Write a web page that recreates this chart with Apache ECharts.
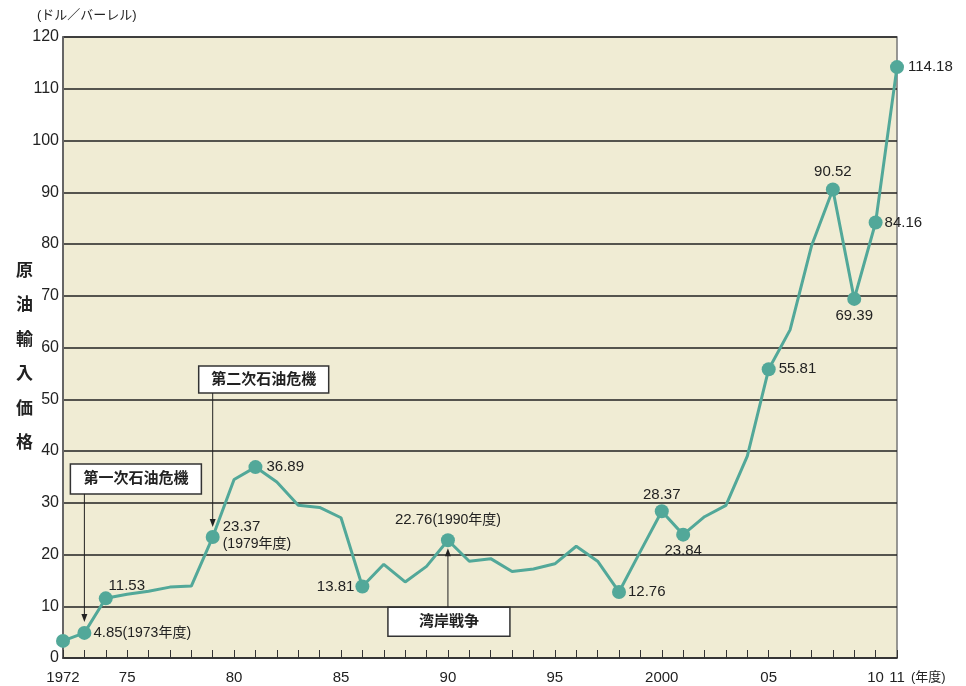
<!DOCTYPE html>
<html><head><meta charset="utf-8">
<script src="https://cdn.jsdelivr.net/npm/echarts@6/dist/echarts.min.js"></script>
<style>html,body{margin:0;padding:0;background:#fff}#c{width:966px;height:686px}</style>
</head><body><div id="c"></div>
<script>
// ---- data ----
const years = [1972,1973,1974,1975,1976,1977,1978,1979,1980,1981,1982,1983,1984,1985,1986,1987,1988,1989,1990,1991,1992,1993,1994,1995,1996,1997,1998,1999,2000,2001,2002,2003,2004,2005,2006,2007,2008,2009,2010,2011];
const prices = [3.3,4.85,11.53,12.3,12.9,13.7,13.9,23.37,34.5,36.89,34.0,29.5,29.1,27.1,13.81,18.1,14.7,17.7,22.76,18.7,19.2,16.7,17.2,18.2,21.6,18.7,12.76,20.6,28.37,23.84,27.3,29.5,39.0,55.81,63.4,79.6,90.52,69.39,84.16,114.18];
const markedYears = [1972,1973,1974,1979,1981,1986,1990,1998,2000,2001,2005,2008,2009,2010,2011];
const labelNotes = {1973:'(1973年度)',1979:'(1979年度)',1990:'(1990年度)'};
const xTickLabels = {1972:'1972',1975:'75',1980:'80',1985:'85',1990:'90',1995:'95',2000:'2000',2005:'05',2010:'10',2011:'11'};
const annotations = [{text:'第一次石油危機',year:1973},{text:'第二次石油危機',year:1979},{text:'湾岸戦争',year:1990}];

// ---- styles ----
const FONT = '"Liberation Sans", Arial, "Noto Sans CJK JP", sans-serif';
const LINE = '#52a899';
const labelStyle = {
  1973:{position:'right',distance:2},
  1974:{position:'top',distance:2,offset:[21,4]},
  1979:{position:'right',distance:3},
  1981:{position:'right',distance:4},
  1986:{position:'left',distance:1},
  1990:{position:'top',distance:3},
  1998:{position:'right',distance:2},
  2000:{position:'top',distance:2},
  2001:{position:'bottom',distance:2},
  2005:{position:'right',distance:3},
  2008:{position:'top',distance:3},
  2009:{position:'bottom',distance:2},
  2010:{position:'right',distance:2},
  2011:{position:'right',distance:4}
};
const annStyle = [
  {dx:-14,dy:-169,w:131,h:30,dir:'down',gap:11},
  {dx:-14,dy:-171,w:130,h:27,dir:'down',gap:10},
  {dx:-60,dy:67,w:122,h:29,dir:'up',gap:8}
];

function fmtLabel(year, v){
  const note = labelNotes[year];
  if(!note) return v.toFixed(2);
  if(year===1979) return '{a|'+v.toFixed(2)+'}\n{b|'+note+'}';
  return '{a|'+v.toFixed(2)+'}{b|'+note+'}';
}

const seriesData = years.map((y,i)=>{
  const item = {value:[y,prices[i]]};
  if(markedYears.indexOf(y)>=0){
    item.symbolSize = 14;
    const ls = labelStyle[y];
    if(ls) item.label = Object.assign({show:true,formatter:fmtLabel(y,prices[i])}, ls);
  } else {
    item.symbolSize = 0;
    item.symbol = 'none';
  }
  return item;
});

const chart = echarts.init(document.getElementById('c'));
chart.setOption({
  animation:false,
  backgroundColor:'#fff',
  grid:{left:63,top:37,right:69,bottom:28,show:true,backgroundColor:'#f0ecd4',borderColor:'#777',borderWidth:1.5},
  xAxis:{type:'value',min:1972,max:2011,interval:1,
    name:'(年度)',nameLocation:'end',nameGap:14,
    nameTextStyle:{fontFamily:FONT,fontSize:13,color:'#222',verticalAlign:'top',padding:[13,0,0,0]},
    axisLine:{show:true,lineStyle:{color:'#333',width:1.5}},
    axisTick:{show:true,inside:true,length:8,lineStyle:{color:'#333',width:1}},
    splitLine:{show:false},
    axisLabel:{fontFamily:FONT,fontSize:15,color:'#222',margin:12,showMinLabel:true,showMaxLabel:true,
      formatter:v=>xTickLabels[v]||''}
  },
  yAxis:{type:'value',min:0,max:120,interval:10,
    axisLine:{show:true,lineStyle:{color:'#666',width:2}},
    axisTick:{show:false},
    splitLine:{show:true,lineStyle:{color:'#222',width:1.5}},
    axisLabel:{fontFamily:FONT,fontSize:16,color:'#222',margin:4}
  },
  series:[{
    type:'line',data:seriesData,symbol:'circle',
    lineStyle:{color:LINE,width:3},
    itemStyle:{color:LINE},
    label:{fontFamily:FONT,fontSize:15,color:'#222',
      rich:{a:{fontFamily:FONT,fontSize:15,color:'#222'},b:{fontFamily:FONT,fontSize:14,color:'#222',lineHeight:20}}},
    z:3
  }]
});

// annotations anchored to the data points
const graphics = [
  {type:'text',left:37,top:9,style:{text:'(ドル／バーレル)',font:'13px '+FONT,fill:'#222'}},
  {type:'text',left:16,top:254,style:{text:'原\n油\n輸\n入\n価\n格',font:'bold 17px '+FONT,fill:'#222',lineHeight:34.5}}
];
annotations.forEach((a,k)=>{
  const idx = years.indexOf(a.year);
  const p = chart.convertToPixel({gridIndex:0},[a.year,prices[idx]]);
  const s = annStyle[k];
  const bx = p[0]+s.dx, by = p[1]+s.dy;
  graphics.push({type:'rect',z:10,shape:{x:bx,y:by,width:s.w,height:s.h},style:{fill:'#fff',stroke:'#333',lineWidth:1.5}});
  graphics.push({type:'text',z:11,x:bx+s.w/2,y:by+s.h/2,style:{text:a.text,font:'bold 15px '+FONT,fill:'#222',align:'center',verticalAlign:'middle'}});
  let y0,y1,head;
  if(s.dir==='down'){ y0=by+s.h; y1=p[1]-s.gap; head=[[p[0]-3,y1-8],[p[0]+3,y1-8],[p[0],y1]]; }
  else { y0=by; y1=p[1]+s.gap; head=[[p[0]-3,y1+8],[p[0]+3,y1+8],[p[0],y1]]; }
  graphics.push({type:'line',z:10,shape:{x1:p[0],y1:y0,x2:p[0],y2:(s.dir==='down'?y1-7:y1+7)},style:{stroke:'#222',lineWidth:1}});
  graphics.push({type:'polygon',z:10,shape:{points:head},style:{fill:'#222'}});
});
chart.setOption({graphic:graphics});
</script>
</body></html>
